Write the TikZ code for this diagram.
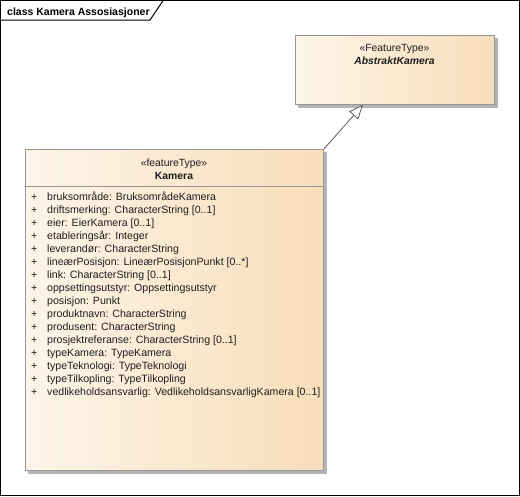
\documentclass[tikz,border=0pt]{standalone}
\usepackage{fontspec}
\setmainfont{Liberation Sans}
\usetikzlibrary{arrows.meta}
\definecolor{boxL}{RGB}{253,244,231}
\definecolor{boxR}{RGB}{248,222,186}
\definecolor{boxBorder}{RGB}{150,150,150}
\definecolor{shadowC}{RGB}{180,180,180}
\definecolor{txt}{RGB}{30,30,30}
\tikzset{
  classbox/.style={draw=boxBorder, line width=0.9pt, left color=boxL, right color=boxR, anchor=north west, inner sep=0pt},
  shadowbox/.style={fill=shadowC, draw=none},
  attr/.style={anchor=base west, inner sep=0pt, font=\fontsize{10.6}{12}\selectfont, text=txt},
  hdr/.style={anchor=base, inner sep=0pt, font=\fontsize{10.4}{12}\selectfont, text=txt},
  gen/.style={draw=black!65, line width=0.8pt, -{Triangle[open, length=14pt, width=12pt, fill=white]}}
}
\begin{document}
\begin{tikzpicture}[x=1pt,y=-1pt]
\useasboundingbox (0,0) rectangle (520,496);
% frame
\draw[line width=1.3pt] (0.7,0.7) rectangle (519.2,495.3);
\draw[line width=1pt] (0.7,20) -- (150,20) -- (163,0.7);
\node[anchor=base west, inner sep=0pt, font=\fontsize{10.5}{12}\selectfont\bfseries] (title) at (7,15) {class Kamera Assosiasjoner};
% AbstraktKamera
\fill[shadowbox] (298,38) rectangle (498,108);
\node[classbox, minimum width=199pt, minimum height=69pt] (abs) at (295,35) {};
\node[hdr] (absst) at (394.5,51) {«FeatureType»};
\node[hdr, font=\fontsize{10.4}{12}\selectfont\bfseries\itshape] (absname) at (394.5,64) {AbstraktKamera};
% Kamera
\fill[shadowbox] (28,152) rectangle (327,474);
\node[classbox, minimum width=298pt, minimum height=321pt] (kam) at (25,149) {};
\draw[boxBorder, line width=0.9pt] (25,186) -- (323,186);
\node[hdr] (kamst) at (174,166) {«featureType»};
\node[hdr, font=\fontsize{10.4}{12}\selectfont\bfseries] (kamname) at (174,179) {Kamera};
\foreach \i/\t in {0/{bruksområde: BruksområdeKamera},
  1/{driftsmerking: CharacterString [0..1]},
  2/{eier: EierKamera [0..1]},
  3/{etableringsår: Integer},
  4/{leverandør: CharacterString},
  5/{lineærPosisjon: LineærPosisjonPunkt [0..*]},
  6/{link: CharacterString [0..1]},
  7/{oppsettingsutstyr: Oppsettingsutstyr},
  8/{posisjon: Punkt},
  9/{produktnavn: CharacterString},
  10/{produsent: CharacterString},
  11/{prosjektreferanse: CharacterString [0..1]},
  12/{typeKamera: TypeKamera},
  13/{typeTeknologi: TypeTeknologi},
  14/{typeTilkopling: TypeTilkopling},
  15/{vedlikeholdsansvarlig: VedlikeholdsansvarligKamera [0..1]}} {
  \node[attr] (p\i) at (31,200+13*\i) {+};
  \node[attr] (a\i) at (47,200+13*\i) {\t};
}
% generalization
\draw[gen] (kam.north east) -- ([xshift=-32pt]abs.south);
\end{tikzpicture}
\end{document}
